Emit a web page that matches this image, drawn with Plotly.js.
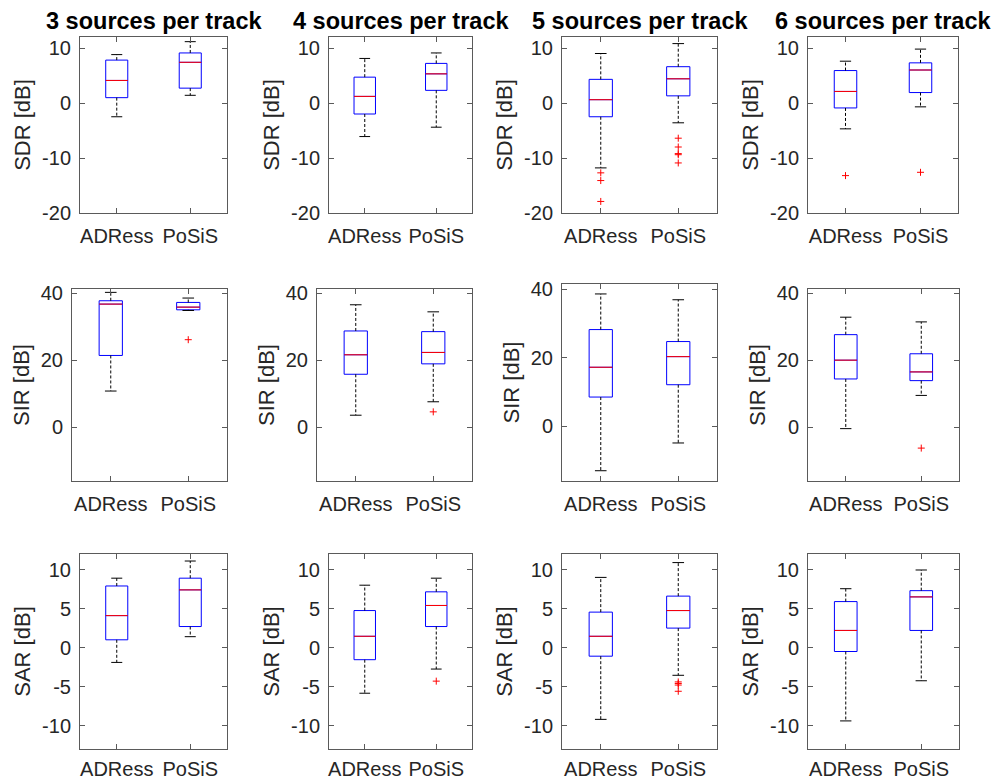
<!DOCTYPE html>
<html>
<head>
<meta charset="utf-8">
<script src="https://cdn.plot.ly/plotly-3.0.1.min.js"></script>
<style>html,body{margin:0;padding:0;background:#fff;}#chart{width:993px;height:780px;}</style>
</head>
<body>
<div id="chart"></div>
<script>
// ---- data ----
const panelTitles = ['3 sources per track', '4 sources per track', '5 sources per track', '6 sources per track'];
const methods = ['ADRess', 'PoSiS'];
const metricNames = ['SDR [dB]', 'SIR [dB]', 'SAR [dB]'];

// each array: 4 panels (3,4,5,6 sources) x [ADRess, PoSiS]
const sdrLow = [[-2.5, 1.4], [-6.1, -4.4], [-11.8, -3.6], [-4.7, -0.7]];
const sdrQ1  = [[0.97, 2.7], [-2.0, 2.3], [-2.5, 1.3], [-0.9, 1.9]];
const sdrMed = [[4.1, 7.4], [1.2, 5.3], [0.6, 4.4], [2.1, 6.0]];
const sdrQ3  = [[7.8, 9.1], [4.7, 7.2], [4.3, 6.6], [5.9, 7.3]];
const sdrHigh= [[8.8, 11.15], [8.1, 9.1], [9.0, 10.8], [7.6, 9.8]];
const sdrOut = [[[], []], [[], []], [[-12.7, -14.1, -17.9], [-6.4, -8.0, -9.2, -9.4, -10.9]], [[-13.2], [-12.6]]];

const sirLow = [[10.8, 34.8], [3.6, 7.6], [-13.0, -4.9], [-0.4, 9.5]];
const sirQ1  = [[21.4, 35.0], [15.8, 18.9], [8.5, 12.1], [14.4, 13.9]];
const sirMed = [[36.7, 35.8], [21.6, 22.3], [17.2, 20.3], [20.0, 16.5]];
const sirQ3  = [[37.7, 37.2], [28.7, 28.5], [28.2, 24.7], [27.6, 21.9]];
const sirHigh= [[40.2, 38.5], [36.5, 34.4], [38.6, 36.9], [32.8, 31.4]];
const sirOut = [[[], [26.1]], [[], [4.6]], [[], []], [[], [-6.2]]];

const sarLow = [[-1.9, 1.4], [-5.85, -2.75], [-9.2, -3.55], [-9.4, -4.25]];
const sarQ1  = [[1.0, 2.7], [-1.55, 2.7], [-1.1, 2.5], [-0.5, 2.2]];
const sarMed = [[4.1, 7.4], [1.45, 5.4], [1.45, 4.75], [2.2, 6.5]];
const sarQ3  = [[7.9, 8.9], [4.75, 7.15], [4.55, 6.6], [5.9, 7.3]];
const sarHigh= [[8.9, 11.1], [8.0, 8.9], [9.0, 10.9], [7.55, 9.95]];
const sarOut = [[[], []], [[], [-4.3]], [[], [-4.4, -4.6, -4.8, -5.6]], [[], []]];

const yRanges = [[-20, 12], [-16, 41.2], [-13, 12]];
const yTicks = [[-20, -10, 0, 10], [0, 20, 40], [-10, -5, 0, 5, 10]];

// ---- layout geometry (px) ----
const W = 993, H = 780;
const colPx = [
  [[80, 227], [329, 472], [562, 717], [808, 958]],
  [[72, 227], [317, 472], [562, 717], [808, 959]],
  [[80, 227], [329, 472], [562, 717], [808, 959]]
];
const rowPx = [
  [[37, 213], [37, 213], [37, 213], [37, 213]],
  [[289, 481], [289, 481], [284, 481], [289, 481]],
  [[554, 749], [554, 749], [554, 749], [554, 749]]
];
const rangeTopAdj = [[0, 0, 0, 0], [0, 0, 0.3, 0], [0, 0, 0, 0]];

const metrics = [
  {low: sdrLow, q1: sdrQ1, med: sdrMed, q3: sdrQ3, high: sdrHigh, out: sdrOut},
  {low: sirLow, q1: sirQ1, med: sirMed, q3: sirQ3, high: sirHigh, out: sirOut},
  {low: sarLow, q1: sarQ1, med: sarMed, q3: sarQ3, high: sarHigh, out: sarOut}
];

const BOXW = 0.3, CAPW = 0.075, MEDW = 0.15;
const axisColor = '#5a5a5a';
const textColor = '#262626';
const FONT = 'Liberation Sans, Arial, Helvetica, sans-serif';
const TICKSIZE = 20, LABELSIZE = 22, TITLESIZE = 23.5;

const traces = [];
const layout = {
  width: W, height: H,
  margin: {l: 0, r: 0, t: 0, b: 0},
  paper_bgcolor: '#fff', plot_bgcolor: '#fff',
  showlegend: false,
  font: {family: FONT, color: textColor},
  annotations: []
};

for (let r = 0; r < 3; r++) {
  const m = metrics[r];
  for (let c = 0; c < 4; c++) {
    const k = r * 4 + c + 1;
    const xa = 'x' + (k === 1 ? '' : k), ya = 'y' + (k === 1 ? '' : k);
    const xs = [1, 2];
    // box body
    traces.push({
      type: 'box', xaxis: xa, yaxis: ya, x: xs,
      q1: m.q1[c], median: m.med[c], q3: m.q3[c],
      lowerfence: m.q1[c], upperfence: m.q3[c],
      width: BOXW, whiskerwidth: 0,
      line: {color: '#0000ff', width: 1}, fillcolor: 'rgba(0,0,0,0)',
      hoverinfo: 'skip'
    });
    // whiskers (dashed) and caps
    const wx = [], wy = [], cx = [], cy = [], mx = [], my = [];
    for (let i = 0; i < 2; i++) {
      const x = xs[i];
      wx.push(x, x, null, x, x, null);
      wy.push(m.q3[c][i], m.high[c][i], null, m.q1[c][i], m.low[c][i], null);
      cx.push(x - CAPW, x + CAPW, null, x - CAPW, x + CAPW, null);
      cy.push(m.high[c][i], m.high[c][i], null, m.low[c][i], m.low[c][i], null);
      mx.push(x - MEDW, x + MEDW, null);
      my.push(m.med[c][i], m.med[c][i], null);
    }
    traces.push({type: 'scatter', mode: 'lines', xaxis: xa, yaxis: ya, x: wx, y: wy,
      line: {color: '#000', width: 1, dash: '3px,2px'}, hoverinfo: 'skip'});
    traces.push({type: 'scatter', mode: 'lines', xaxis: xa, yaxis: ya, x: cx, y: cy,
      line: {color: '#000', width: 1}, hoverinfo: 'skip'});
    traces.push({type: 'scatter', mode: 'lines', xaxis: xa, yaxis: ya, x: mx, y: my,
      line: {color: '#ff0000', width: 1}, hoverinfo: 'skip'});
    // outliers
    const ox = [], oy = [];
    for (let i = 0; i < 2; i++) m.out[c][i].forEach(v => { ox.push(xs[i]); oy.push(v); });
    if (ox.length) traces.push({type: 'scatter', mode: 'markers', xaxis: xa, yaxis: ya, x: ox, y: oy,
      marker: {symbol: 'cross-thin', size: 5, line: {color: '#ff0000', width: 1}, color: '#ff0000'},
      hoverinfo: 'skip'});

    const cp = colPx[r][c], rp = rowPx[r][c];
    layout['xaxis' + (k === 1 ? '' : k)] = {
      anchor: ya, domain: [cp[0] / W, cp[1] / W], range: [0.5, 2.5],
      tickmode: 'array', tickvals: xs, ticktext: methods,
      ticks: 'inside', ticklen: 5, tickcolor: axisColor, tickwidth: 1,
      showline: true, linecolor: axisColor, linewidth: 1, mirror: 'ticks',
      showgrid: false, zeroline: false, fixedrange: true,
      tickfont: {size: TICKSIZE, color: textColor, family: FONT},
      ticklabelstandoff: r === 2 ? 2 : 5
    };
    layout['yaxis' + (k === 1 ? '' : k)] = {
      anchor: xa, domain: [1 - rp[1] / H, 1 - rp[0] / H],
      range: [yRanges[r][0], yRanges[r][1] + rangeTopAdj[r][c]],
      tickmode: 'array', tickvals: yTicks[r], ticktext: yTicks[r].map(v => String(v)),
      ticks: 'inside', ticklen: 5, tickcolor: axisColor, tickwidth: 1,
      showline: true, linecolor: axisColor, linewidth: 1, mirror: 'ticks',
      showgrid: false, zeroline: false, fixedrange: true,
      tickfont: {size: TICKSIZE, color: textColor, family: FONT},
      ticklabelstandoff: 4,
      title: {text: metricNames[r], font: {size: LABELSIZE, color: textColor, family: FONT}, standoff: 5}
    };
    if (r === 0) {
      layout.annotations.push({
        xref: 'paper', yref: 'paper', x: (cp[0] + cp[1]) / 2 / W, y: 1 - 21 / H,
        xanchor: 'center', yanchor: 'middle', showarrow: false,
        text: '<b>' + panelTitles[c] + '</b>',
        font: {size: TITLESIZE, color: '#000', family: FONT}
      });
    }
  }
}

Plotly.newPlot('chart', traces, layout, {staticPlot: true, displayModeBar: false});
</script>
</body>
</html>
